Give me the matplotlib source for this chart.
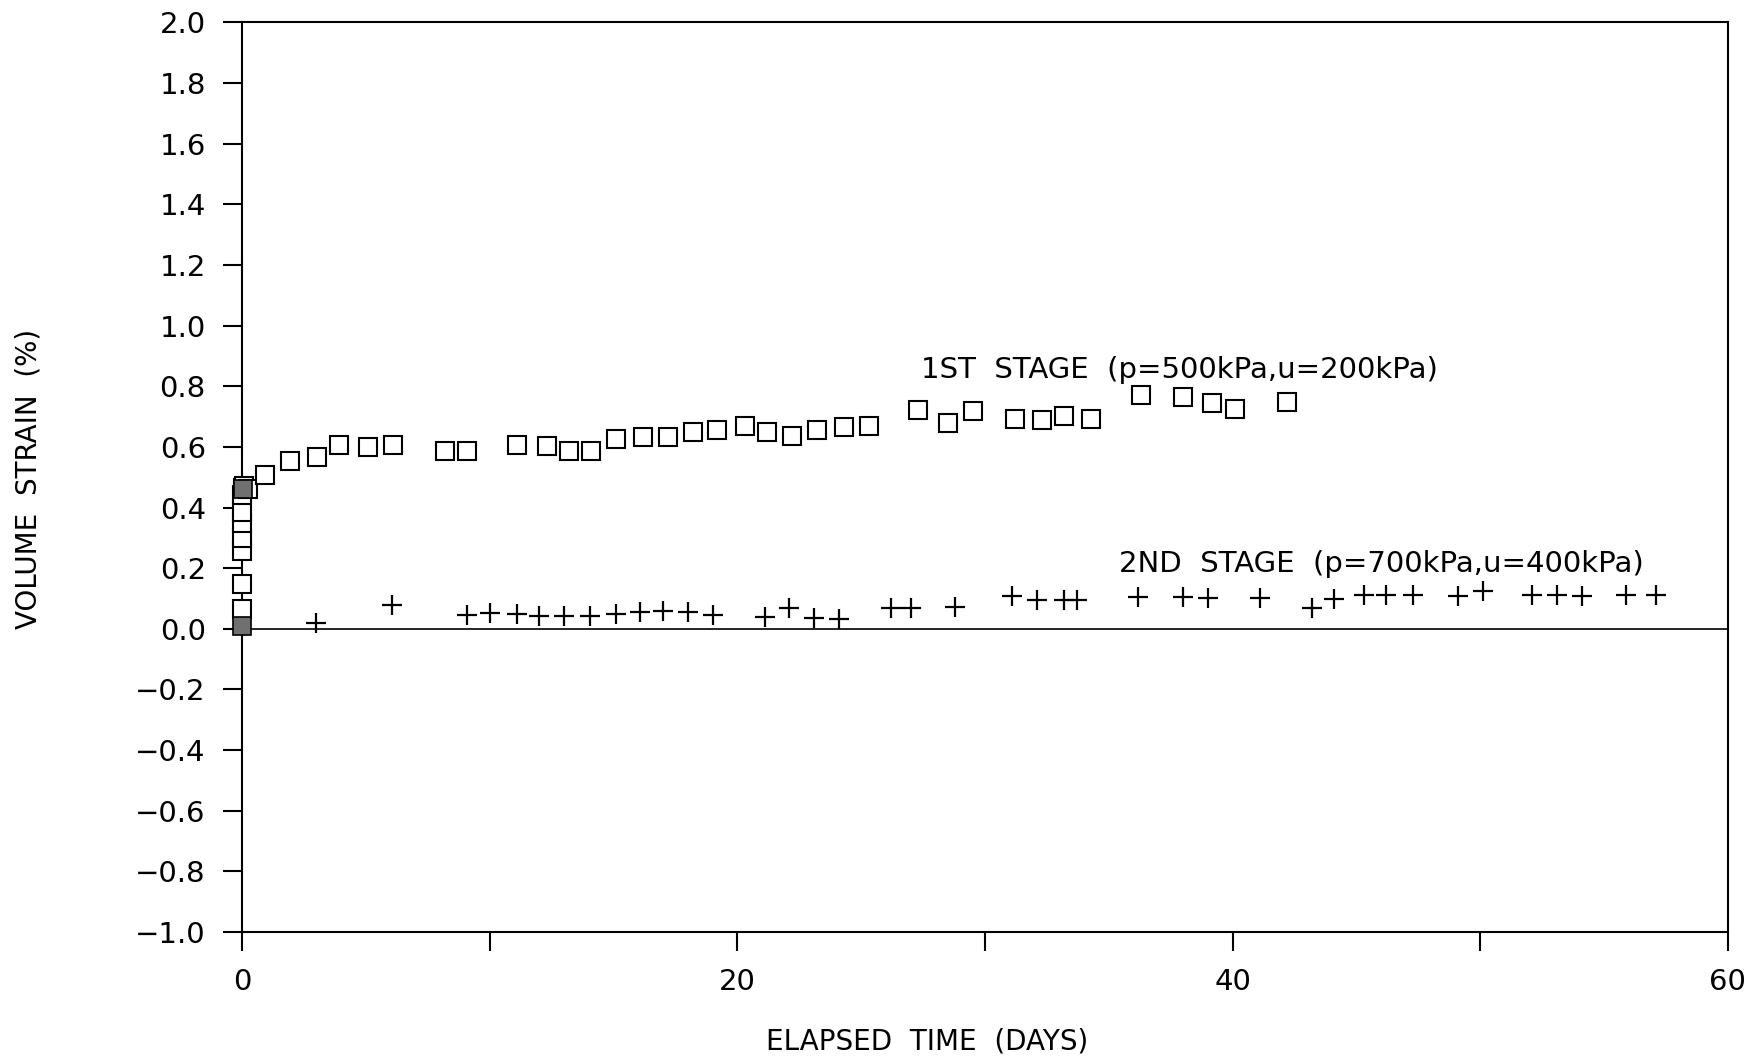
import matplotlib
matplotlib.use("Agg")
import matplotlib.pyplot as plt
import numpy as np

plt.rcParams['font.family'] = ['DejaVu Sans']

# 1st stage (p=500kPa, u=200kPa): elapsed time (days) vs volume strain (%)
t_stage1 = [0.0, 0.0, 0.0, 0.0, 0.0, 0.0, 0.0, 0.05, 0.1, 0.25,
            0.93, 1.94, 3.03, 3.9, 5.1, 6.1, 8.2, 9.1, 11.1, 12.3,
            13.2, 14.1, 15.1, 16.2, 17.2, 18.2, 19.2, 20.3, 21.2, 22.2,
            23.2, 24.3, 25.3, 27.3, 28.5, 29.5, 31.2, 32.3, 33.2, 34.3,
            36.3, 38.0, 39.15, 40.1, 42.2]
v_stage1 = [0.066, 0.148, 0.257, 0.30, 0.35, 0.385, 0.44, 0.465, 0.47, 0.46,
            0.507, 0.553, 0.566, 0.605, 0.599, 0.605, 0.587, 0.587, 0.605, 0.603,
            0.587, 0.587, 0.625, 0.632, 0.632, 0.648, 0.655, 0.668, 0.648, 0.635,
            0.655, 0.665, 0.668, 0.721, 0.678, 0.718, 0.691, 0.688, 0.701, 0.691,
            0.77, 0.763, 0.744, 0.726, 0.748]

# readings at start of loading (shaded symbols)
t_start = [0.0, 0.05]
v_start = [0.01, 0.462]

# 2nd stage (p=700kPa, u=400kPa)
t_stage2 = [3.0, 6.05, 9.07, 10.0, 11.1, 12.0, 13.0, 14.05, 15.1, 16.07,
            17.0, 18.0, 19.0, 21.1, 22.1, 23.1, 24.1, 26.2, 27.0, 28.8,
            31.1, 32.1, 33.2, 33.7, 36.2, 38.0, 39.0, 41.1, 43.2, 44.1,
            45.3, 46.2, 47.3, 49.1, 50.1, 52.1, 53.1, 54.1, 55.9, 57.1]
v_stage2 = [0.02, 0.079, 0.046, 0.053, 0.049, 0.043, 0.043, 0.043, 0.049, 0.056,
            0.059, 0.056, 0.046, 0.039, 0.069, 0.036, 0.033, 0.069, 0.069, 0.072,
            0.109, 0.095, 0.095, 0.095, 0.105, 0.105, 0.102, 0.102, 0.07, 0.099,
            0.112, 0.112, 0.112, 0.108, 0.125, 0.112, 0.112, 0.108, 0.11, 0.11]

x_ticks = np.arange(0, 61, 10)
x_labels = ['0', '', '20', '', '40', '', '60']
y_ticks = np.arange(-1.0, 2.01, 0.2)

fig = plt.figure(figsize=(17.56, 10.61), dpi=100)
ax = fig.add_axes([0.1378, 0.1216, 0.8462, 0.8573])

ax.axhline(0, color='black', lw=1.2, zorder=1)

ax.plot(t_stage1, v_stage1, 's', ms=13.5, mfc='white', mec='black', mew=1.5,
        zorder=3, clip_on=False)
ax.plot(t_start, v_start, 's', ms=13.5, mfc='#707070', mec='black', mew=1.2,
        zorder=4, clip_on=False)
ax.plot(t_stage2, v_stage2, '+', ms=15, mec='black', mew=1.6, zorder=3)

ax.text(27.4, 0.855, '1ST  STAGE  (p=500kPa,u=200kPa)', fontsize=21, va='center', ha='left')
ax.text(35.4, 0.215, '2ND  STAGE  (p=700kPa,u=400kPa)', fontsize=21, va='center', ha='left')

ax.set_xlim(0, 60)
ax.set_ylim(-1.0, 2.0)
ax.set_xticks(x_ticks)
ax.set_xticklabels(x_labels)
ax.set_yticks(y_ticks)
ax.set_yticklabels([f'{v:.1f}'.replace('-', '\u2212') if abs(v) > 1e-9 else '0.0' for v in y_ticks])

ax.tick_params(axis='both', direction='out', length=14, width=1.5, labelsize=21, colors='black')
ax.tick_params(axis='x', pad=12)
ax.tick_params(axis='y', pad=12)
for sp in ax.spines.values():
    sp.set_linewidth(1.5)

fig.text(0.528, 0.018, 'ELAPSED  TIME  (DAYS)', fontsize=20, ha='center', va='center')
fig.text(0.016, 0.549, 'VOLUME  STRAIN  (%)', fontsize=20, ha='center', va='center', rotation=90)

fig.savefig('out.png', dpi=100, facecolor='white')
